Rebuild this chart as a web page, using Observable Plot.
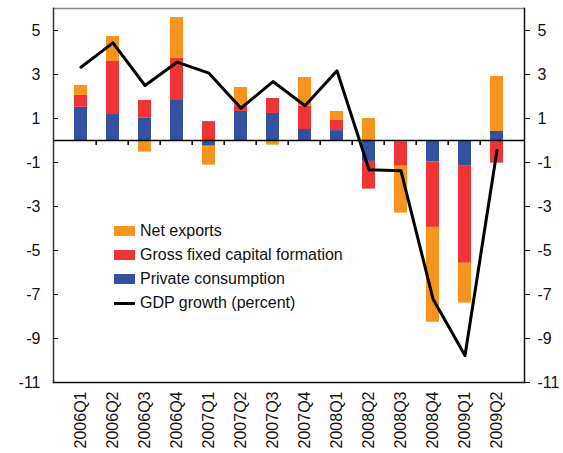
<!DOCTYPE html>
<html>
<head>
<meta charset="utf-8">
<script src="https://cdn.jsdelivr.net/npm/d3@7"></script>
<script src="https://cdn.jsdelivr.net/npm/@observablehq/plot@0.6"></script>
<style>
  body { margin: 0; background: #fff; font-family: "Liberation Sans", Arial, sans-serif; }
  #wrap { position: relative; width: 563px; height: 453px; }
  #legend { position: absolute; left: 114px; top: 219px; font-size: 16px; color: #111; }
  .row { display: flex; align-items: center; height: 24px; }
  .sw { width: 21px; height: 10px; margin-right: 5px; }
  .ln { width: 21px; height: 3px; background: #000; margin-right: 5px; }
</style>
</head>
<body>
<div id="wrap"><div id="legend"></div></div>
<script>
const quarters = ["2006Q1","2006Q2","2006Q3","2006Q4","2007Q1","2007Q2","2007Q3","2007Q4","2008Q1","2008Q2","2008Q3","2008Q4","2009Q1","2009Q2"];
const consumption = [1.51,1.18,1.01,1.82,-0.26,1.32,1.23,0.50,0.45,-0.95,-0.06,-0.98,-1.14,0.41];
const investment  = [0.54,2.41,0.81,1.91,0.86,0.26,0.68,1.05,0.46,-1.26,-1.11,-2.97,-4.44,-1.03];
const netExports  = [0.45,1.14,-0.53,1.86,-0.86,0.83,-0.21,1.31,0.41,1.00,-2.13,-4.31,-1.81,2.50];
const gdp         = [3.33,4.44,2.50,3.56,3.06,1.47,2.68,1.58,3.17,-1.33,-1.38,-7.20,-9.77,-0.45];
const seriesNames = ["Private consumption","Gross fixed capital formation","Net exports"];
const seriesColors = ["#3451a1","#ee3434","#f7941e"];
const lineName = "GDP growth (percent)";
const yTicks = [5,3,1,-1,-3,-5,-7,-9,-11];

const bars = [];
quarters.forEach((q, i) => {
  bars.push({q, s: seriesNames[0], v: consumption[i]});
  bars.push({q, s: seriesNames[1], v: investment[i]});
  bars.push({q, s: seriesNames[2], v: netExports[i]});
});
const line = quarters.map((q, i) => ({q, v: gdp[i]}));

const W = 563, H = 453, mL = 53, mR = 39;
const half = (W - mL - mR) / quarters.length / 2;

const chart = Plot.plot({
  width: W, height: H,
  marginLeft: mL, marginRight: mR, marginTop: 8, marginBottom: 71,
  style: { fontFamily: "'Liberation Sans', Arial, sans-serif", fontSize: "16px", color: "#111", background: "#fff" },
  x: { domain: quarters, padding: 0.58, label: null },
  y: { domain: [-11, 6], label: null },
  color: { domain: seriesNames, range: seriesColors },
  marks: [
    Plot.barY(bars, { x: "q", y: "v", fill: "s", order: seriesNames }),
    Plot.ruleY([0], { stroke: "#000", strokeWidth: 1.5 }),
    Plot.ruleX(quarters.slice(1), { x: d => d, y1: 0, y2: -0.23, dx: -half, stroke: "#000", strokeWidth: 1.5 }),
    Plot.lineY(line, { x: "q", y: "v", stroke: "#000", strokeWidth: 3 }),
    Plot.frame({ anchor: "top", stroke: "#888", strokeWidth: 1.5 }),
    Plot.frame({ anchor: "left", stroke: "#333", strokeWidth: 1.5 }),
    Plot.frame({ anchor: "right", stroke: "#111", strokeWidth: 1.5 }),
    Plot.frame({ anchor: "bottom", stroke: "#111", strokeWidth: 1.5 }),
    Plot.axisY(yTicks, { anchor: "left", tickSize: -5, tickPadding: 18, tickFormat: d => String(d), label: null }),
    Plot.axisY(yTicks, { anchor: "right", tickSize: 5, tickPadding: 8, tickFormat: d => String(d), label: null }),
    Plot.axisX({ anchor: "bottom", tickSize: 0, tickPadding: 9, tickRotate: -90, label: null })
  ]
});
const wrap = document.getElementById("wrap");
wrap.insertBefore(chart, wrap.firstChild);

const legend = document.getElementById("legend");
const items = [[seriesNames[2], seriesColors[2]], [seriesNames[1], seriesColors[1]], [seriesNames[0], seriesColors[0]]];
items.forEach(([n, c]) => {
  const r = document.createElement("div"); r.className = "row";
  const s = document.createElement("div"); s.className = "sw"; s.style.background = c;
  const t = document.createElement("span"); t.textContent = n;
  r.appendChild(s); r.appendChild(t); legend.appendChild(r);
});
const r = document.createElement("div"); r.className = "row";
const s = document.createElement("div"); s.className = "ln";
const t = document.createElement("span"); t.textContent = lineName;
r.appendChild(s); r.appendChild(t); legend.appendChild(r);
</script>
</body>
</html>
